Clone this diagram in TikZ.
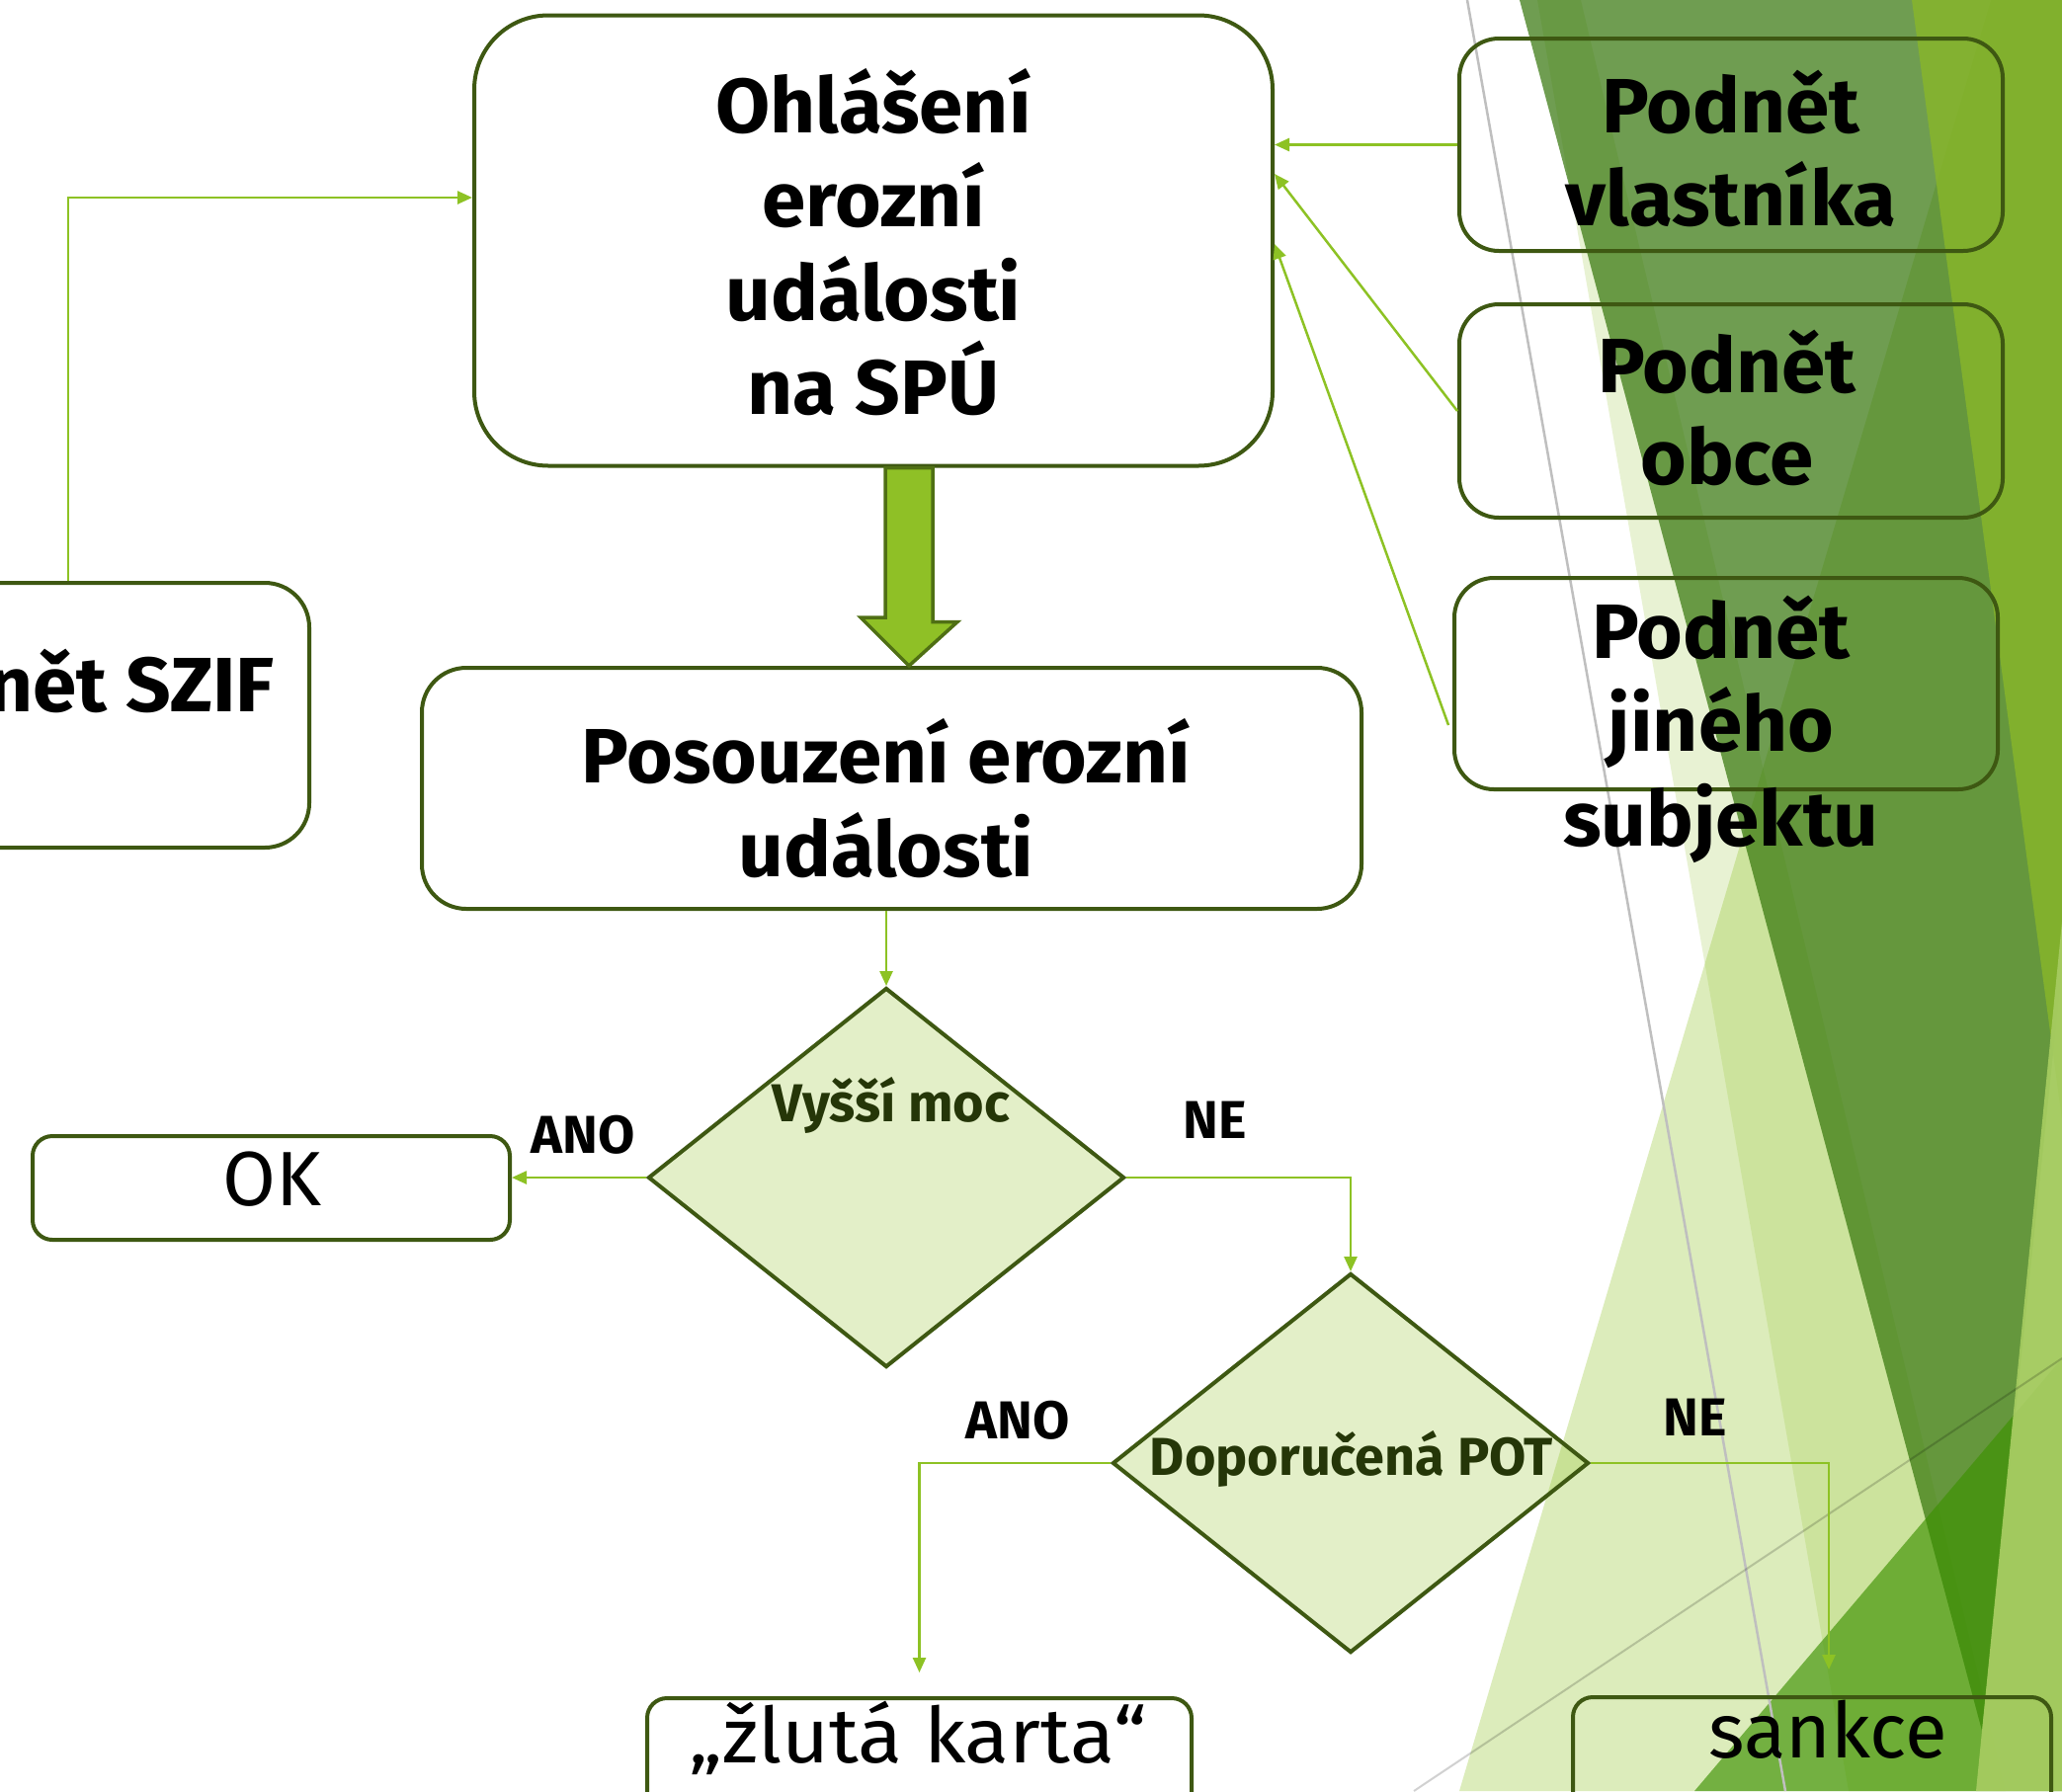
\documentclass[tikz,border=0pt]{standalone}
\usepackage{fontspec}
\setmainfont{Fira Sans}
\newfontfamily\widefam{Fira Sans}[FakeStretch=1.025]
\newfontfamily\widerfam{Fira Sans}[FakeStretch=1.06]
\usetikzlibrary{arrows.meta,calc,shapes.geometric}
\definecolor{boxline}{RGB}{62,88,18}
\definecolor{cLink}{RGB}{141,194,36}
\definecolor{facet}{RGB}{144,194,38}
\definecolor{darkfacet}{RGB}{51,116,8}
\definecolor{brightg}{RGB}{137,183,42}
\definecolor{medg}{RGB}{60,145,0}
\definecolor{rightg}{RGB}{165,203,96}
\definecolor{dtext}{RGB}{37,54,8}
\definecolor{arrowfill}{RGB}{143,192,38}
\definecolor{arrowline}{RGB}{79,111,20}
\newcommand{\bigbf}{\widefam\fontsize{78}{95}\selectfont\bfseries}
\newcommand{\labf}{\fontsize{54}{64}\selectfont\bfseries}
\newcommand{\regf}{\fontsize{78}{94}\selectfont}
\begin{document}
\begin{tikzpicture}[x=1pt,y=-1pt,
  box/.style={draw=boxline, line width=4pt, rounded corners=#1, inner sep=0pt},
  dia/.style={diamond, draw=boxline, line width=4pt, fill=facet, fill opacity=0.25,
              inner sep=0pt, minimum width=482pt, minimum height=384pt},
  link/.style={draw=cLink, line width=2.5pt, -{Triangle[length=15pt,width=13pt]}},
  tb/.style={anchor=base, inner sep=0pt, font=\bigbf},
  tl/.style={anchor=base, inner sep=0pt, font=\labf},
  tr/.style={anchor=base, inner sep=0pt, font=\regf},
  bigarrow/.style={fill=arrowfill, draw=arrowline, line width=3.5pt, line join=miter}]
\path[use as bounding box] (0,0) rectangle (2087,1813);
\clip (0,0) rectangle (2087,1813);
\fill[white] (0,0) rectangle (2087,1813);
% background facets
\fill[facet, opacity=0.31] (2015,0) -- (1477,1813) -- (2087,1813) -- (2087,0) -- cycle;
\fill[facet, opacity=0.2] (1556,0) -- (1871,1813) -- (2030,1813) -- (1600,0) -- cycle;
\fill[darkfacet, opacity=0.7] (1538,0) -- (2006,1752) -- (2190,0) -- cycle;
\fill[brightg, opacity=0.8] (1935,0) -- (2087,1134) -- (2087,0) -- cycle;
\fill[medg, opacity=0.65] (1715,1813) -- (2087,1375) -- (2087,1813) -- cycle;
\fill[rightg, opacity=0.95] (2087,933) -- (2000,1813) -- (2087,1813) -- cycle;
\draw[black!25, line width=2.5pt] (1485,0) -- (1807,1813);
\draw[black, opacity=0.18, line width=2pt] (1431,1813) -- (2087,1375);
% boxes
\node[box=75pt, minimum width=808pt, minimum height=456pt] (ohl) at (884,243.5) {};
\node[box=45pt, minimum width=951pt, minimum height=244pt] (pos) at (902.5,798) {};
\node[box=45pt, minimum width=503pt, minimum height=268pt] (szif) at (61.5,724) {};
\node[box=40pt, minimum width=550pt, minimum height=215pt] (vla) at (1752,146.5) {};
\node[box=40pt, minimum width=550pt, minimum height=216pt] (obc) at (1752,416) {};
\node[box=40pt, minimum width=550pt, minimum height=214pt] (jin) at (1747,692) {};
\node[box=20pt, minimum width=483pt, minimum height=105pt] (ok) at (274.5,1202.5) {};
\node[box=20pt, minimum width=551pt, minimum height=132pt] (zl) at (930.5,1785) {};
\node[box=20pt, minimum width=484pt, minimum height=132pt] (sank) at (1834,1784) {};
\node[dia] (d1) at (897,1192) {};
\node[dia] (d2) at (1367,1481) {};
% block arrow
\draw[bigarrow] ($(ohl.south)+(12,0)$) coordinate (ba) -- ++(48,0) -- ++(0,156) -- ++(25,0)
  -- ($(pos.north)+(17.5,0)$) -- ++(-49,-49) -- ++(25,0) -- cycle;
% connectors
\draw[link] ($(szif.north)+(7.5,0)$) |- ($(ohl.west)+(0,-43.5)$);
\draw[link] (vla.west) -- (vla.west -| ohl.east);
\draw[link] (obc.west) -- ($(ohl.east)+(0,-67.5)$);
\draw[link] ($(jin.west)+(-4,42)$) -- ($(ohl.east)+(0,3.5)$);
\draw[link] (pos.south -| d1.north) -- (d1.north);
\draw[link] (d1.west) -- (d1.west -| ok.east);
\draw[link] (d1.east) -| (d2.north);
\draw[link, shorten >=24pt] (d2.west) -| (zl.north);
\draw[link, shorten >=26pt] (d2.east) -| ($(sank.north)+(17,0)$);
% texts
\node[tb] (t1) at (884,134) {Ohlášení};
\node[tb] (t2) at (884,229) {erozní};
\node[tb] (t3) at (884,324) {události};
\node[tb] (t4) at (884,419) {na SPÚ};
\node[tb] (t5) at (897,792) {Posouzení erozní};
\node[tb] (t6) at (897,887) {události};
\node[tb, anchor=base east] (t7) at (278,720) {Podnět SZIF};
\node[tb] (t8) at (1752,134) {Podnět};
\node[tb] (t9) at (1752,228) {vlastníka};
\node[tb] (t10) at (1748,397) {Podnět};
\node[tb] (t11) at (1748,490) {obce};
\node[tb] (t12) at (1742,666) {Podnět};
\node[tb] (t13) at (1742,760) {jiného};
\node[tb] (t14) at (1742,856) {subjektu};
\node[tl] (l1) at (590,1167) {ANO};
\node[tl] (l2) at (1230,1152) {NE};
\node[tl] (l3) at (1030,1456) {ANO};
\node[tl] (l4) at (1716,1453) {NE};
\node[tl, text=dtext] (q1) at (902,1135) {Vyšší moc};
\node[tl, text=dtext] (q2) at (1368,1493) {Doporučená POT};
\node[tr] (r1) at (275,1220) {OK};
\node[tr, font=\widerfam\fontsize{78}{94}\selectfont] (r2) at (929,1784) {„žlutá karta“};
\node[tr] (r3) at (1850,1779) {sankce};
\end{tikzpicture}
\end{document}
